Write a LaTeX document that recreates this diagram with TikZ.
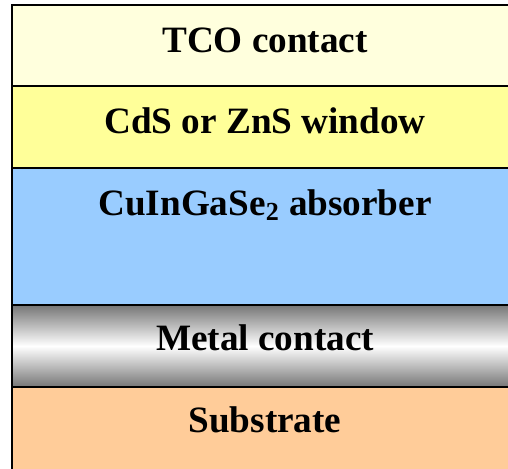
\documentclass[tikz,border=0pt]{standalone}
\usepackage{fontspec}
\setmainfont{Liberation Serif}
\definecolor{tcofond}{HTML}{FFFFDD}
\definecolor{fenetrefond}{HTML}{FFFF99}
\definecolor{absorbeurfond}{HTML}{99CCFF}
\definecolor{substratfond}{HTML}{FFCC99}
\definecolor{metalgris}{HTML}{767676}
\begin{document}
\begin{tikzpicture}[x=0.5pt,y=-0.5pt,
    couche/.style={draw=black,line width=0.8pt,anchor=north west,inner sep=0pt,
      outer sep=0pt,minimum width=254pt},
    etiquette/.style={anchor=base,font=\fontsize{18.6}{20}\selectfont\bfseries}]
    \useasboundingbox (0,0) rectangle (508,468);
    \clip (0,0) rectangle (508,468);
    % les couches, de haut en bas
    \node[couche,fill=tcofond,minimum height=40.5pt] (tco) at (12,5) {};
    \node[couche,fill=fenetrefond,minimum height=41pt] (fenetre) at (12,86) {};
    \node[couche,fill=absorbeurfond,minimum height=68.5pt] (absorbeur) at (12,168) {};
    \node[couche,top color=metalgris,bottom color=metalgris,middle color=white,
      minimum height=41pt] (metal) at (12,305) {};
    \node[couche,fill=substratfond,minimum height=45pt] (substrat) at (12,387) {};
    % les textes
    \node[etiquette] (ltco) at (265,52) {TCO contact};
    \node[etiquette] (lfenetre) at (265,133) {CdS or ZnS window};
    \node[etiquette] (labsorbeur) at (265,215) {CuInGaSe\textsubscript{2} absorber};
    \node[etiquette] (lmetal) at (265,350) {Metal contact};
    \node[etiquette] (lsubstrat) at (265,432) {Substrate};
\end{tikzpicture}
\end{document}
